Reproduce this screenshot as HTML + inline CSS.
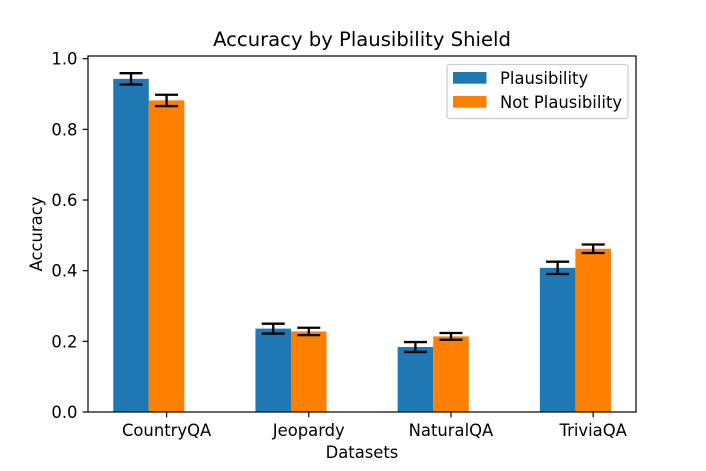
<!DOCTYPE html>
<html>
<head>
<meta charset="utf-8">
<style>
html,body{margin:0;padding:0;background:#fff}
svg{display:block}
text{font-family:"DejaVu Sans",sans-serif;fill:#000}
</style>
</head>
<body>
<svg id="chart" xmlns="http://www.w3.org/2000/svg" width="706" height="471" viewBox="0 0 706 471">
<rect width="706" height="471" fill="#fff"/>
<text x="362" y="46" font-size="19.6" text-anchor="middle">Accuracy by Plausibility Shield</text>
<text x="362" y="458" font-size="16.4" text-anchor="middle">Datasets</text>
<text transform="translate(42,234) rotate(-90)" font-size="16.4" text-anchor="middle">Accuracy</text>
<g id="bars"></g>
<g id="errors"></g>
<g id="ticks"></g>
<rect x="88" y="56" width="548" height="356" fill="none" stroke="#000" stroke-width="1.2"/>
<g>
<rect x="447" y="64.5" width="181" height="54" rx="2.5" fill="#fff" fill-opacity="0.8" stroke="#ccc" stroke-width="1.2"/>
<rect x="453" y="72" width="33.5" height="11.7" fill="#1f77b4"/>
<text x="500" y="84" font-size="16.4">Plausibility</text>
<rect x="453" y="96" width="33.5" height="11.7" fill="#ff7f00"/>
<text x="500" y="108" font-size="16.4">Not Plausibility</text>
</g>
</svg>
<script>
const categories = ["CountryQA", "Jeopardy", "NaturalQA", "TriviaQA"];
const plausibility = [0.943, 0.236, 0.184, 0.408];
const notPlausibility = [0.882, 0.228, 0.214, 0.462];
const plausibilityErr = [0.016, 0.014, 0.014, 0.0175];
const notPlausibilityErr = [0.016, 0.0105, 0.0095, 0.012];
const yTicks = [0, 0.2, 0.4, 0.6, 0.8, 1];
const yTickLabels = ["0.0", "0.2", "0.4", "0.6", "0.8", "1.0"];

const NS = "http://www.w3.org/2000/svg";
const BAR_W = 35.55;
function yScale(v) { return 412 - v * 353.3; }
function xScale(i) { return 148.8 + i * 142.2; }
function make(parent, tag, attrs) {
  const el = document.createElementNS(NS, tag);
  for (const k in attrs) el.setAttribute(k, attrs[k]);
  parent.appendChild(el);
  return el;
}
const barsG = document.getElementById("bars");
const errG = document.getElementById("errors");
const ticksG = document.getElementById("ticks");

function drawSeries(values, errs, offset, color, name) {
  values.forEach(function (v, i) {
    const x = xScale(i) + offset;
    const bar = make(barsG, "rect", { x: x, y: yScale(v), width: BAR_W, height: yScale(0) - yScale(v), fill: color });
    
    
  });
  values.forEach(function (v, i) {
    const cx = xScale(i) + offset + BAR_W / 2;
    const g = make(errG, "g", { stroke: "#000", "stroke-width": 2.3, fill: "none" });
    
    
    const top = yScale(v + errs[i]);
    const bottom = yScale(v - errs[i]);
    make(g, "line", { x1: cx, x2: cx, y1: top, y2: bottom });
    make(g, "line", { x1: cx - 11.5, x2: cx + 11.5, y1: top, y2: top });
    make(g, "line", { x1: cx - 11.5, x2: cx + 11.5, y1: bottom, y2: bottom });
  });
}
drawSeries(plausibility, plausibilityErr, -BAR_W, "#1f77b4", "plausibility");
drawSeries(notPlausibility, notPlausibilityErr, 0, "#ff7f00", "not-plausibility");

categories.forEach(function (c, i) {
  const x = xScale(i) + BAR_W / 2;
  const t = make(ticksG, "line", { x1: x, x2: x, y1: 412, y2: 417.3, stroke: "#000", "stroke-width": 1.2 });
  
  
  const l = make(ticksG, "text", { x: x, y: 436, "font-size": 16.4, "text-anchor": "middle" });
  l.textContent = c;
  
  
});
yTicks.forEach(function (v, i) {
  const y = yScale(v);
  const t = make(ticksG, "line", { x1: 82.7, x2: 88, y1: y, y2: y, stroke: "#000", "stroke-width": 1.2 });
  
  
  const l = make(ticksG, "text", { x: 77.5, y: y + 6, "font-size": 16.4, "text-anchor": "end" });
  l.textContent = yTickLabels[i];
  
  
});
</script>
</body>
</html>
